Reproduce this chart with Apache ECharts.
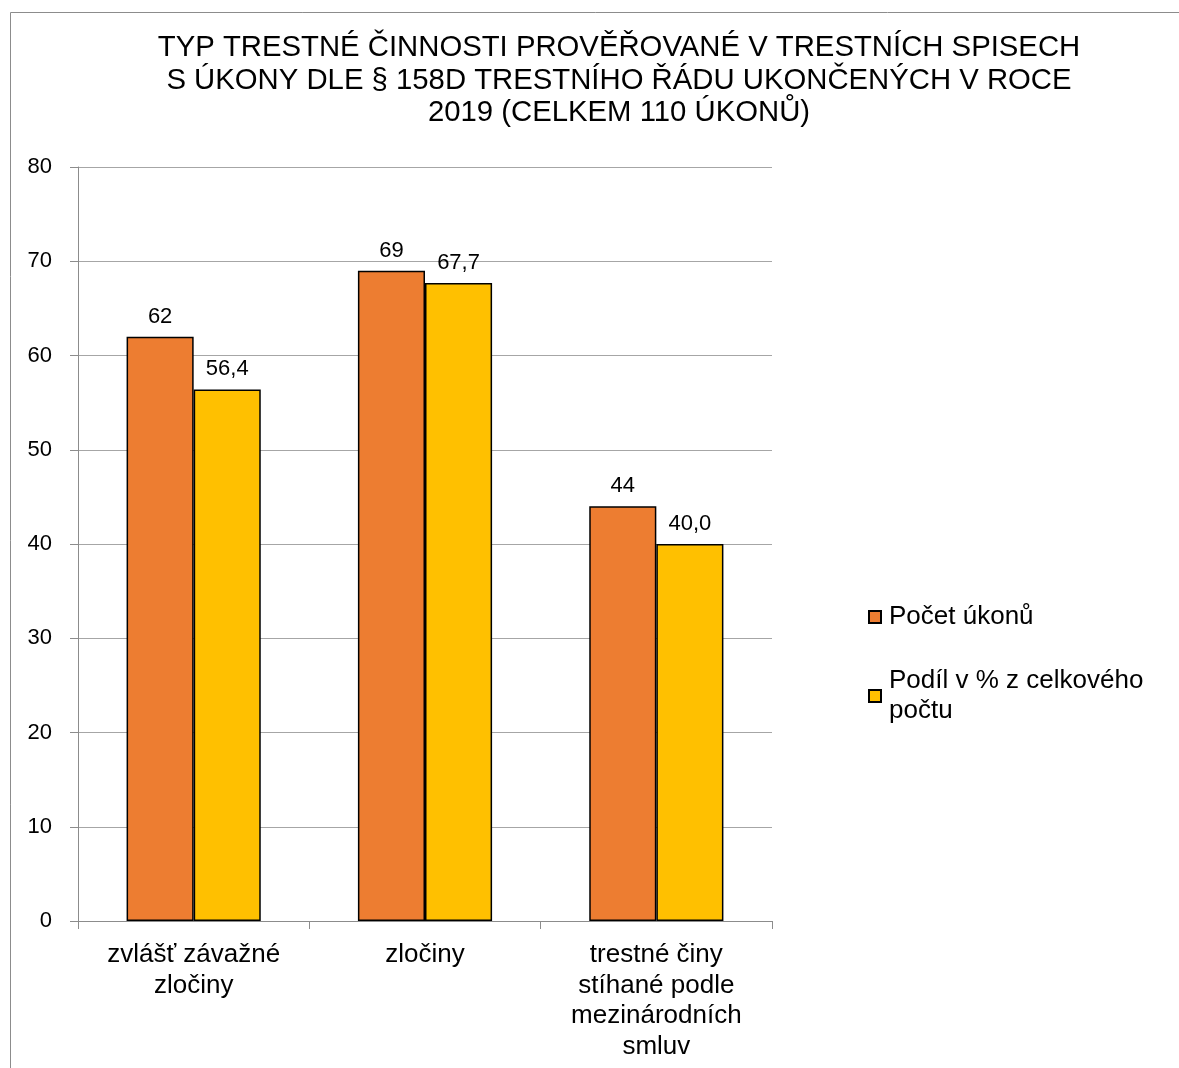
<!DOCTYPE html>
<html>
<head>
<meta charset="utf-8">
<script src="https://cdn.jsdelivr.net/npm/echarts@6/dist/echarts.min.js"></script>
<style>
html,body{margin:0;padding:0;background:#fff;}
#chart{width:1179px;height:1068px;}
</style>
</head>
<body>
<div id="chart"></div>
<script>
const titleText = 'TYP TRESTNÉ ČINNOSTI PROVĚŘOVANÉ V TRESTNÍCH SPISECH\nS ÚKONY DLE § 158D TRESTNÍHO ŘÁDU UKONČENÝCH V ROCE\n2019 (CELKEM 110 ÚKONŮ)';
const categories = ['zvlášť závažné\nzločiny', 'zločiny', 'trestné činy\nstíhané podle\nmezinárodních\nsmluv'];
const seriesNames = ['Počet úkonů', 'Podíl v % z celkového počtu'];
const pocetUkonu = [62, 69, 44];
const podilProcent = [56.4, 67.7, 40.0];
const yTicks = {min: 0, max: 80, interval: 10};

const font = '"Liberation Sans", Arial, sans-serif';
const chart = echarts.init(document.getElementById('chart'));
chart.setOption({
  animation: false,
  textStyle: {fontFamily: font},
  graphic: [{
    type: 'rect', shape: {x: 10.5, y: 12.5, width: 1300, height: 1200},
    style: {fill: 'none', stroke: '#8c8c8c', lineWidth: 1}, silent: true
  }],
  title: {
    text: titleText, left: 614, textAlign: 'center', top: 27,
    textStyle: {fontFamily: font, fontSize: 29.3, fontWeight: 'normal', color: '#000', lineHeight: 32.5}
  },
  legend: {
    orient: 'vertical', left: 863, top: 597, itemGap: 34,
    itemWidth: 12, itemHeight: 12, icon: 'rect',
    data: seriesNames,
    formatter: function (n) { return n === seriesNames[1] ? 'Podíl v % z celkového\npočtu' : n; },
    textStyle: {fontFamily: font, fontSize: 26, color: '#000', lineHeight: 30, padding: [0,0,0,3]}
  },
  grid: {left: 78, right: 407, top: 167, bottom: 147, containLabel: false},
  xAxis: {
    type: 'category', data: categories,
    axisLine: {lineStyle: {color: '#8c8c8c', width: 1}},
    axisTick: {show: true, length: 8, lineStyle: {color: '#8c8c8c'}},
    axisLabel: {fontFamily: font, fontSize: 26, color: '#000', lineHeight: 30.5, margin: 19, interval: 0}
  },
  yAxis: {
    type: 'value', min: yTicks.min, max: yTicks.max, interval: yTicks.interval,
    axisLine: {show: true, lineStyle: {color: '#8c8c8c', width: 1}},
    axisTick: {show: true, length: 8, lineStyle: {color: '#8c8c8c'}},
    axisLabel: {fontFamily: font, fontSize: 22, color: '#000', margin: 26},
    splitLine: {lineStyle: {color: '#a6a6a6', width: 1}}
  },
  series: [{
    name: seriesNames[0], type: 'bar', data: pocetUkonu,
    barGap: '0%', barCategoryGap: '42%',
    itemStyle: {color: '#ED7D31', borderColor: '#000', borderWidth: 1.5},
    label: {show: true, position: 'top', distance: 9, fontFamily: font, fontSize: 22, color: '#000'}
  }, {
    name: seriesNames[1], type: 'bar', data: podilProcent,
    itemStyle: {color: '#FFC000', borderColor: '#000', borderWidth: 1.5},
    label: {show: true, position: 'top', distance: 9, fontFamily: font, fontSize: 22, color: '#000',
      formatter: function (p) { return p.value.toFixed(1).replace('.', ','); }}
  }]
});
</script>
</body>
</html>
